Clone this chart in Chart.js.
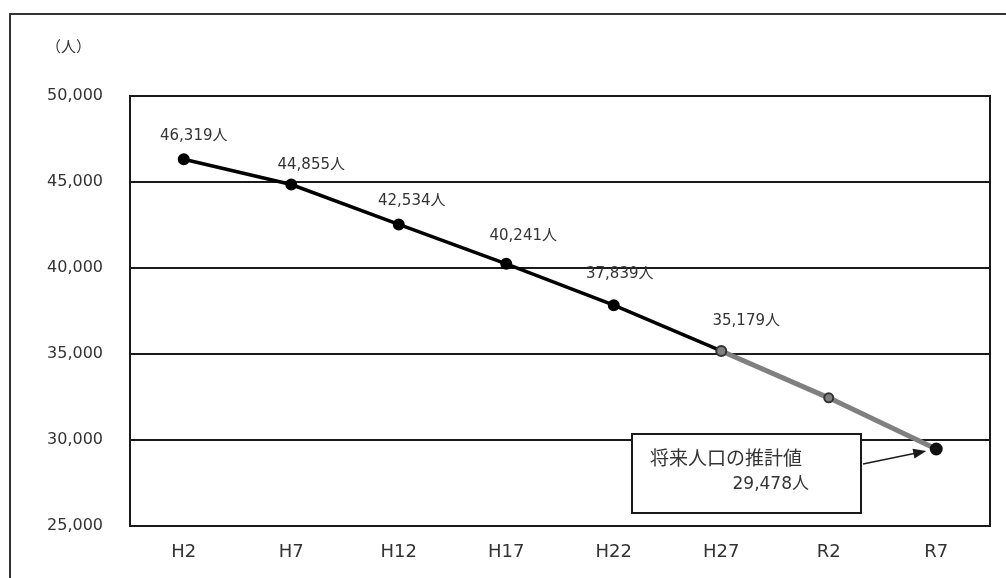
<!DOCTYPE html>
<html>
<head>
<meta charset="utf-8">
<script src="https://cdn.jsdelivr.net/npm/chart.js@4.4.0/dist/chart.umd.min.js"></script>
<style>
  html, body { margin: 0; padding: 0; background: #fff; }
  canvas { display: block; }
</style>
</head>
<body>
<canvas id="c" width="1006" height="578"></canvas>
<script>
// Population by census year (H = Heisei, R = Reiwa)
const years = ['H2', 'H7', 'H12', 'H17', 'H22', 'H27', 'R2', 'R7'];
const population = [46319, 44855, 42534, 40241, 37839, 35179, 32450, 29478];
const yTicks = [25000, 30000, 35000, 40000, 45000, 50000];
const unitLabel = '（人）';
const calloutTitle = '将来人口の推計値';
const lastActualIndex = 5;   // H27 is the last census figure; later points are projections

const NUM_FONT = "'DejaVu Sans','Noto Sans CJK JP',sans-serif";
const JP_FONT = "'Noto Sans CJK JP','DejaVu Sans',sans-serif";
const fmt = v => v.toLocaleString('en-US');

// label nudges (dx, dy) from each point for the value labels
const labelNudge = [[10, -23], [20, -19], [13, -23], [17, -28], [6, -31], [25, -30]];

const decorations = {
  id: 'decorations',
  beforeDraw(chart) {
    const ctx = chart.ctx;
    ctx.save();
    ctx.fillStyle = '#fff';
    ctx.fillRect(0, 0, chart.width, chart.height);
    // outer frame (top and left edges)
    ctx.strokeStyle = '#333';
    ctx.lineWidth = 2;
    ctx.beginPath();
    ctx.moveTo(10, chart.height);
    ctx.lineTo(10, 14);
    ctx.lineTo(chart.width, 14);
    ctx.stroke();
    // unit label
    ctx.fillStyle = '#333';
    ctx.font = '15px ' + JP_FONT;
    ctx.textAlign = 'left';
    ctx.textBaseline = 'middle';
    ctx.fillText(unitLabel, 46, 46);
    ctx.restore();
  },
  beforeDatasetsDraw(chart) {
    const { ctx, chartArea: a } = chart;
    ctx.save();
    ctx.strokeStyle = '#1a1a1a';
    ctx.lineWidth = 2;
    ctx.strokeRect(a.left, a.top, a.right - a.left, a.bottom - a.top);
    ctx.restore();
  },
  afterDatasetsDraw(chart) {
    const ctx = chart.ctx;
    const meta = chart.getDatasetMeta(0);
    ctx.save();
    ctx.fillStyle = '#333';
    ctx.font = '15px ' + NUM_FONT;
    ctx.textAlign = 'center';
    ctx.textBaseline = 'middle';
    for (let i = 0; i <= lastActualIndex; i++) {
      const p = meta.data[i];
      const [dx, dy] = labelNudge[i];
      ctx.fillText(fmt(population[i]) + '人', p.x + dx, p.y + dy);
    }
    ctx.restore();
  },
  afterDraw(chart) {
    const ctx = chart.ctx;
    const meta = chart.getDatasetMeta(0);
    const last = meta.data[meta.data.length - 1];
    const a = chart.chartArea;
    // callout box for the projected figure
    const bx = a.right - 358, by = a.bottom - 92, bw = 229, bh = 79;
    ctx.save();
    ctx.fillStyle = '#fff';
    ctx.fillRect(bx, by, bw, bh);
    ctx.strokeStyle = '#1a1a1a';
    ctx.lineWidth = 2;
    ctx.strokeRect(bx, by, bw, bh);
    ctx.fillStyle = '#333';
    ctx.textBaseline = 'middle';
    ctx.textAlign = 'left';
    ctx.font = '19px ' + JP_FONT;
    ctx.fillText(calloutTitle, bx + 18, by + 24);
    ctx.font = '17px ' + NUM_FONT;
    ctx.textAlign = 'right';
    ctx.fillText(fmt(population[population.length - 1]) + '人', bx + 177, by + 51);
    // arrow pointing at the last point
    const sx = bx + bw + 2, sy = by + 30;
    const tx = last.x - 10, ty = last.y + 2;
    const ang = Math.atan2(ty - sy, tx - sx);
    ctx.strokeStyle = '#1a1a1a';
    ctx.lineWidth = 1.6;
    ctx.beginPath();
    ctx.moveTo(sx, sy);
    ctx.lineTo(tx - 10 * Math.cos(ang), ty - 10 * Math.sin(ang));
    ctx.stroke();
    ctx.fillStyle = '#1a1a1a';
    ctx.beginPath();
    ctx.moveTo(tx, ty);
    ctx.lineTo(tx - 13 * Math.cos(ang) + 5 * Math.sin(ang), ty - 13 * Math.sin(ang) - 5 * Math.cos(ang));
    ctx.lineTo(tx - 13 * Math.cos(ang) - 5 * Math.sin(ang), ty - 13 * Math.sin(ang) + 5 * Math.cos(ang));
    ctx.closePath();
    ctx.fill();
    ctx.restore();
  }
};

const pointFill = population.map((v, i) => i < lastActualIndex ? '#000' : (i === population.length - 1 ? '#111' : '#808080'));
const pointEdge = population.map((v, i) => i < lastActualIndex ? '#000' : (i === population.length - 1 ? '#111' : '#333'));
const pointSize = population.map((v, i) => i === population.length - 1 ? 5.5 : (i === 6 ? 4.5 : 5));

new Chart(document.getElementById('c'), {
  type: 'line',
  data: {
    labels: years,
    datasets: [{
      data: population,
      borderColor: '#000',
      borderWidth: 3.5,
      tension: 0,
      pointBackgroundColor: pointFill,
      pointBorderColor: pointEdge,
      pointBorderWidth: 2,
      pointRadius: pointSize,
      segment: {
        borderColor: c => c.p0DataIndex >= lastActualIndex ? '#808080' : '#000',
        borderWidth: c => c.p0DataIndex >= lastActualIndex ? 5 : 3.5
      }
    }]
  },
  options: {
    responsive: false,
    animation: false,
    devicePixelRatio: 1,
    layout: { padding: { top: 96, right: 16, left: 0, bottom: 0 } },
    plugins: { legend: { display: false }, tooltip: { enabled: false } },
    scales: {
      x: {
        offset: true,
        grid: { display: false, drawTicks: false },
        border: { display: false },
        ticks: { color: '#333', padding: 16, font: { family: NUM_FONT, size: 18 } },
        afterFit: s => { s.height = 52; }
      },
      y: {
        min: 25000,
        max: 50000,
        afterBuildTicks: s => { s.ticks = yTicks.map(v => ({ value: v })); },
        grid: { color: '#1a1a1a', lineWidth: 2, drawTicks: false },
        border: { display: false },
        ticks: { color: '#333', padding: 27, font: { family: NUM_FONT, size: 16 }, callback: v => fmt(v) },
        afterFit: s => { s.width = 130; }
      }
    }
  },
  plugins: [decorations]
});
</script>
</body>
</html>
